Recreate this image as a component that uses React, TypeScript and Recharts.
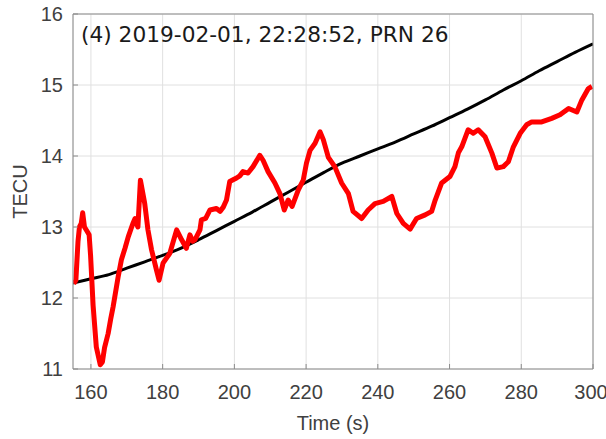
import React from 'react';
import { LineChart, Line, XAxis, YAxis, CartesianGrid } from 'recharts';

const xTicks = [160, 180, 200, 220, 240, 260, 280, 300];
const yTicks = [11, 12, 13, 14, 15, 16];

const blackTime = [155, 160, 165, 170, 175, 180, 185, 190, 195, 200, 205, 210, 215, 220, 225, 230, 235, 240, 245, 250, 255, 260, 265, 270, 275, 280, 285, 290, 295, 300];
const blackTecu = [12.21, 12.27, 12.33, 12.42, 12.51, 12.6, 12.7, 12.82, 12.95, 13.08, 13.21, 13.35, 13.49, 13.63, 13.77, 13.9, 14.0, 14.1, 14.2, 14.31, 14.42, 14.54, 14.66, 14.79, 14.93, 15.06, 15.2, 15.33, 15.46, 15.58];

const redTime = [155.2, 155.8, 156.4, 156.8, 157.3, 157.7, 158.2, 158.8, 159.5, 159.9, 160.6, 161.5, 162.6, 163.2, 163.8, 164.8, 165.5, 166.2, 167.6, 168.5, 169.5, 170.4, 171.7, 172.3, 172.7, 173.1, 173.8, 175.0, 175.9, 176.9, 178.3, 179.0, 180.1, 182.0, 183.9, 185.3, 186.6, 187.6, 188.4, 189.0, 190.4, 190.8, 192.0, 193.2, 195.0, 196.0, 196.9, 197.8, 198.7, 200.6, 201.5, 202.4, 203.8, 205.2, 207.1, 208.0, 209.4, 211.3, 212.7, 213.9, 215.0, 216.1, 217.8, 219.2, 220.1, 221.1, 222.5, 223.9, 224.8, 226.2, 228.0, 229.9, 231.8, 233.1, 235.5, 237.3, 239.2, 241.5, 243.9, 245.3, 247.1, 249.0, 250.8, 253.2, 255.0, 256.0, 257.8, 260.1, 261.5, 262.5, 263.4, 265.2, 266.6, 268.0, 269.9, 271.8, 273.2, 275.0, 276.4, 277.8, 279.7, 281.5, 282.9, 285.7, 288.5, 290.8, 293.2, 295.5, 296.9, 298.7, 299.7];
const redTecu = [12.2, 12.25, 12.8, 13.0, 13.05, 13.2, 13.0, 12.95, 12.89, 12.6, 11.9, 11.31, 11.06, 11.1, 11.3, 11.5, 11.7, 11.88, 12.3, 12.54, 12.7, 12.86, 13.05, 13.12, 13.05, 13.0, 13.66, 13.33, 12.96, 12.68, 12.39, 12.25, 12.49, 12.63, 12.96, 12.82, 12.7, 12.89, 12.8, 12.82, 12.96, 13.1, 13.12, 13.24, 13.26, 13.22, 13.28, 13.38, 13.64, 13.69, 13.72, 13.78, 13.76, 13.85, 14.01, 13.94, 13.78, 13.62, 13.47, 13.24, 13.38, 13.29, 13.52, 13.66, 13.9, 14.08, 14.18, 14.34, 14.23, 13.98, 13.85, 13.62, 13.47, 13.22, 13.12, 13.24, 13.33, 13.36, 13.43, 13.19, 13.05, 12.97, 13.12, 13.17, 13.22, 13.38, 13.62, 13.71, 13.85, 14.05, 14.13, 14.37, 14.32, 14.37, 14.27, 14.04, 13.83, 13.85, 13.92, 14.13, 14.32, 14.44, 14.48, 14.48, 14.53, 14.58, 14.67, 14.62, 14.79, 14.95, 14.98];

const titleText = '(4) 2019-02-01, 22:28:52, PRN 26';

const blackData = blackTime.map((t, i) => ({ t, v: blackTecu[i] }));
const redData = redTime.map((t, i) => ({ t, v: redTecu[i] }));

const tickFont = { fontSize: 20, fill: '#404040', fontFamily: 'Liberation Sans, Arial, sans-serif' };
const axisColor = '#8c8c8c';

export default function App() {
  return (
    <div style={{ position: 'absolute', left: 0, top: 0, width: 606, height: 439, background: '#fff', overflow: 'hidden' }}>
      <LineChart width={606} height={439} margin={{ top: 0, right: 0, bottom: 0, left: 0 }}>
        <CartesianGrid stroke="#e0e0e0" strokeWidth={1} />
        <XAxis
          dataKey="t"
          type="number"
          domain={[155, 300]}
          ticks={xTicks}
          allowDataOverflow
          height={70}
          stroke={axisColor}
          tickSize={-5}
          tickMargin={21}
          tick={tickFont}
          label={{ value: 'Time (s)', position: 'insideBottom', offset: 9, style: { fontSize: 20, fill: '#404040', fontFamily: 'Liberation Sans, Arial, sans-serif' } }}
        />
        <XAxis
          xAxisId="top"
          dataKey="t"
          type="number"
          orientation="top"
          domain={[155, 300]}
          ticks={xTicks}
          allowDataOverflow
          height={14}
          stroke={axisColor}
          tickSize={-5}
          tick={false}
        />
        <YAxis
          type="number"
          domain={[11, 16]}
          ticks={yTicks}
          allowDataOverflow
          width={73}
          stroke={axisColor}
          tickSize={-5}
          tickMargin={15}
          tick={tickFont}
          label={{ value: 'TECU', angle: -90, position: 'insideLeft', offset: 20, style: { textAnchor: 'middle', fontSize: 20, fill: '#404040', fontFamily: 'Liberation Sans, Arial, sans-serif' } }}
        />
        <YAxis
          yAxisId="right"
          type="number"
          orientation="right"
          domain={[11, 16]}
          ticks={yTicks}
          allowDataOverflow
          width={13}
          stroke={axisColor}
          tickSize={-5}
          tick={false}
        />
        <Line data={blackData} dataKey="v" type="monotone" stroke="#000000" strokeWidth={3} dot={false} isAnimationActive={false} />
        <Line data={redData} dataKey="v" type="linear" stroke="#ff0000" strokeWidth={5} dot={false} isAnimationActive={false} strokeLinejoin="round" />
      </LineChart>
      <div style={{ position: 'absolute', left: 81, top: 24, fontSize: 21.7, lineHeight: '21px', fontFamily: 'DejaVu Sans, sans-serif', color: '#1a1a1a', whiteSpace: 'nowrap' }}>
        {titleText}
      </div>
    </div>
  );
}
